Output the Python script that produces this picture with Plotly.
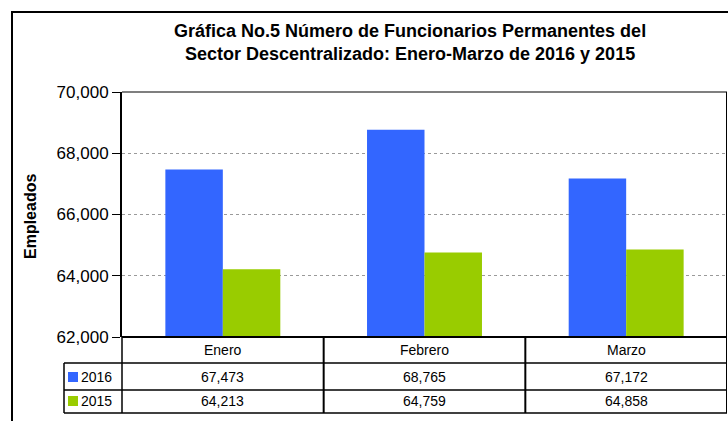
import plotly.graph_objects as go

# data
meses = ["Enero", "Febrero", "Marzo"]
serie_2016 = [67473, 68765, 67172]
serie_2015 = [64213, 64759, 64858]
anios = ["2016", "2015"]
colores = ["#3366FF", "#99CC00"]
y_ticks = [62000, 64000, 66000, 68000, 70000]

W, H = 728, 421
L, R, T, B = 122, 727, 92, 337  # plot area in pixels


def px(p):
    return (p - L) / (R - L)


def py(p):
    return (B - p) / (B - T)


fig = go.Figure()
for nombre, vals, col in zip(anios, [serie_2016, serie_2015], colores):
    fig.add_trace(go.Bar(x=meses, y=vals, name=nombre, marker_color=col,
                         marker_line_width=0))

font = "Liberation Sans, Arial, sans-serif"
fig.update_layout(
    width=W, height=H,
    margin=dict(l=L, r=W - R, t=T, b=H - B),
    paper_bgcolor="white", plot_bgcolor="white",
    showlegend=False,
    barmode="group", bargap=0.43, bargroupgap=0,
    font=dict(family=font, color="black"),
)
fig.update_xaxes(showticklabels=False, showgrid=False, showline=False,
                 range=[-0.5, 2.5])
fig.update_yaxes(range=[62000, 70000], tickvals=y_ticks, tickformat=",",
                 ticks="outside", ticklen=8, tickcolor="black",
                 tickfont=dict(size=17), showline=True, linecolor="black",
                 linewidth=2, showgrid=True, gridcolor="#9a9a9a",
                 griddash="dot", gridwidth=1, zeroline=False)

shapes = []
line = dict(color="black", width=1.5)
# outer frame
shapes.append(dict(type="rect", xref="paper", yref="paper",
                   x0=px(12), x1=px(740), y0=py(440), y1=py(12),
                   line=dict(color="black", width=2)))
# top border of plot
shapes.append(dict(type="line", xref="paper", yref="paper",
                   x0=0, x1=1, y0=1, y1=1,
                   line=dict(color="#555555", width=1.5)))
# table horizontal lines
for yy, x0 in [(337, L), (363, 64), (390, 64), (413, 64)]:
    shapes.append(dict(type="line", xref="paper", yref="paper",
                       x0=px(x0), x1=1, y0=py(yy), y1=py(yy),
                       line=dict(color="black", width=2 if yy == 337 else 1.5)))
# vertical lines
shapes.append(dict(type="line", xref="paper", yref="paper",
                   x0=px(64), x1=px(64), y0=py(363), y1=py(413), line=line))
shapes.append(dict(type="line", xref="paper", yref="paper",
                   x0=0, x1=0, y0=0, y1=py(413), line=line))
for i in range(len(meses)):
    shapes.append(dict(type="line", xref="x", yref="paper",
                       x0=i + 0.5, x1=i + 0.5, y0=py(92 if i == 2 else 337),
                       y1=py(413), line=dict(color="black", width=2)))
# legend keys
for j, col in enumerate(colores):
    yc = [377, 401][j]
    shapes.append(dict(type="rect", xref="paper", yref="paper",
                       x0=px(68), x1=px(78), y0=py(yc + 5), y1=py(yc - 5),
                       fillcolor=col, line=dict(width=0)))

ann = []
ann.append(dict(text="<b>Gráfica No.5 Número de Funcionarios Permanentes del<br>"
                     "Sector Descentralizado: Enero-Marzo de 2016 y 2015</b>",
                xref="paper", yref="paper", x=px(410), y=py(42),
                xanchor="center", yanchor="middle",
                showarrow=False, font=dict(size=18), align="center"))
ann.append(dict(text="<b>Empleados</b>", textangle=-90, xref="paper",
                yref="paper", x=px(30), y=py(217), xanchor="center",
                yanchor="middle", showarrow=False, font=dict(size=16)))
for i, m in enumerate(meses):
    ann.append(dict(text=m, xref="x", yref="paper", x=i, y=py(350),
                    xanchor="center", yanchor="middle",
                    showarrow=False, font=dict(size=14)))
    for j, vals in enumerate([serie_2016, serie_2015]):
        ann.append(dict(text=f"{vals[i]:,}", xref="x", yref="paper", x=i,
                        y=py([377, 401][j]), xanchor="center",
                        yanchor="middle", showarrow=False,
                        font=dict(size=14)))
for j, a in enumerate(anios):
    ann.append(dict(text=a, xref="paper", yref="paper", x=px(79),
                    xanchor="left", yanchor="middle", y=py([377, 401][j]),
                    showarrow=False, font=dict(size=14)))

fig.update_layout(shapes=shapes, annotations=ann)
fig.write_html("out.html", config={"displayModeBar": False},
               post_script="document.body.style.margin='0';")
